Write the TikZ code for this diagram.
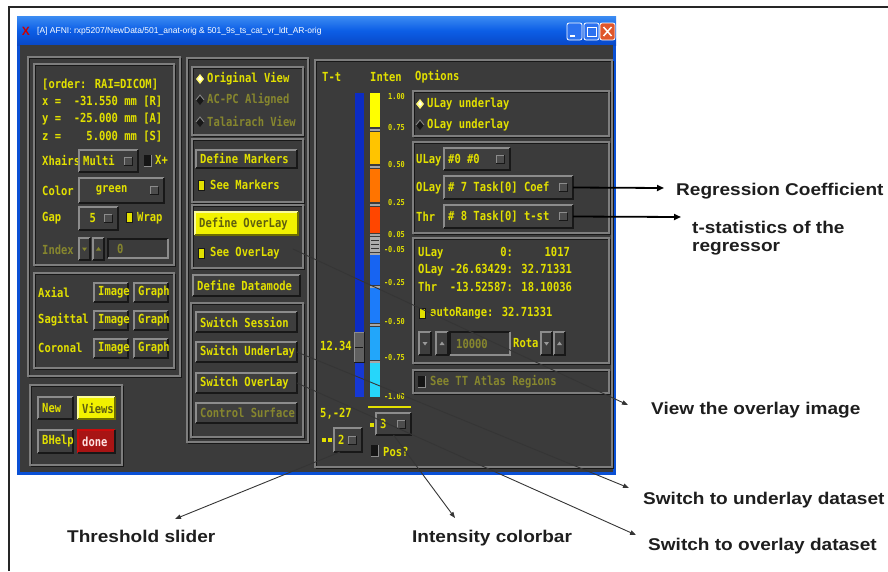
\documentclass[tikz,border=0pt]{standalone}
\usepackage{fontspec}
\setmainfont{Liberation Sans}
\newfontfamily\guifont[FakeStretch=0.84]{DejaVu Sans Mono}
\newfontfamily\annfont[FakeStretch=1.12]{Liberation Sans Bold}
\usetikzlibrary{arrows.meta}
\definecolor{gbg}{HTML}{3B3B3B}
\definecolor{gbtn}{HTML}{3E3E3E}
\definecolor{gyel}{HTML}{E2E000}
\definecolor{gdim}{HTML}{86862E}
\definecolor{ghi}{HTML}{8C8C8C}
\definecolor{glo}{HTML}{181818}
\definecolor{gfr}{HTML}{7E7E7E}
\definecolor{gsqf}{HTML}{4C4C4C}
\definecolor{xpblue}{HTML}{0A50D5}
\definecolor{xptop}{HTML}{3C8CF2}
\definecolor{xpmid}{HTML}{0C5EE6}
\definecolor{xpbot}{HTML}{0848C8}
\definecolor{xpbtn}{HTML}{2C72F0}
\definecolor{xpclose}{HTML}{E0562C}
\definecolor{ybtn}{HTML}{F2F200}
\definecolor{ybtntext}{HTML}{5E5E10}
\definecolor{donered}{HTML}{A81414}
\definecolor{annot}{HTML}{1E1E1E}
\definecolor{thrblue}{HTML}{0C2CC4}
\definecolor{thrblue2}{HTML}{1638D4}
\definecolor{cbA}{HTML}{FFFF00}
\definecolor{cbB}{HTML}{FFC400}
\definecolor{cbC}{HTML}{FF7400}
\definecolor{cbD}{HTML}{FF4600}
\definecolor{cbE}{HTML}{1764F2}
\definecolor{cbF}{HTML}{1C7CFA}
\definecolor{cbG}{HTML}{22A6FA}
\definecolor{cbH}{HTML}{26D6FA}
% raised bevel
\newcommand\GBev[4]{\fill[gbtn] (#1,#2) rectangle (#3,#4);
  \draw[ghi,line width=1.3] (#1,#4) -- (#1,#2) -- (#3,#2);
  \draw[glo,line width=1.3] (#3,#2) -- (#3,#4) -- (#1,#4);}
% sunken bevel
\newcommand\GSunk[4]{\fill[gbg] (#1,#2) rectangle (#3,#4);
  \draw[glo,line width=1.3] (#1,#4) -- (#1,#2) -- (#3,#2);
  \draw[ghi,line width=1.3] (#3,#2) -- (#3,#4) -- (#1,#4);}
% etched frame
\newcommand\GEtch[4]{\draw[glo,line width=1] (#1+1.5,#2+1.5) rectangle (#3+1.5,#4+1.5);
  \draw[gfr,line width=1.3] (#1,#2) rectangle (#3,#4);}
% invisible named node covering a box
\newcommand\GBox[5]{\node[inner sep=0pt,outer sep=0pt,minimum width={#4-#2},minimum height={#5-#3},anchor=north west] (#1) at (#2,#3) {};}
\newcommand\GButton[6]{\GBev{#2}{#3}{#4}{#5}\GBox{#1}{#2}{#3}{#4}{#5}
  \node[gtext] (#1t) at ({#2+4},{(#3+#5)/2}) {#6};}
\newcommand\GSq[2]{\fill[gsqf] (#1,#2) rectangle ++(8,8);
  \draw[ghi,line width=0.8] (#1,#2) ++(0,8) -- ++(0,-8) -- ++(8,0);
  \draw[glo,line width=1] (#1,#2) ++(8,0) -- ++(0,8) -- ++(-8,0);}
\newcommand\GMenu[6]{\GButton{#1}{#2}{#3}{#4}{#5}{#6}
  \pgfmathsetmacro\GMx{#4-14}\pgfmathsetmacro\GMy{(#3+#5)/2-4}\GSq{\GMx}{\GMy}}
\newcommand\GYBtn[6]{\fill[ybtn] (#2,#3) rectangle (#4,#5);
  \draw[white!60!ybtn,line width=1.3] (#2,#5) -- (#2,#3) -- (#4,#3);
  \draw[black!55!ybtn,line width=1.3] (#4,#3) -- (#4,#5) -- (#2,#5);
  \GBox{#1}{#2}{#3}{#4}{#5}
  \node[gtext,text=ybtntext] (#1t) at ({#2+4},{(#3+#5)/2}) {#6};}
\newcommand\GChkOn[2]{\fill[gyel] (#1,#2) rectangle ++(6,10);
  \draw[glo,line width=0.6] (#1,#2) rectangle ++(6,10);}
\newcommand\GChkOff[2]{\fill[black!65!gbg] (#1,#2) rectangle ++(7,11);
  \draw[ghi,line width=0.9] (#1+7,#2) -- ++(0,11) -- ++(-7,0);}
\newcommand\GDiaOn[2]{\fill[yellow!55!white] (#1-4,#2) -- (#1,#2-5) -- (#1+4,#2) -- (#1,#2+5) -- cycle;
  \fill[white] (#1-2,#2) -- (#1,#2-3) -- (#1+2,#2) -- (#1,#2+2) -- cycle;}
\newcommand\GDiaOff[2]{\fill[glo] (#1-4,#2) -- (#1,#2-5) -- (#1+4,#2) -- (#1,#2+5) -- cycle;
  \draw[ghi,line width=0.8] (#1-4,#2) -- (#1,#2-5) -- (#1+4,#2);}
\newcommand\GDn[3]{\fill[#3] (#1-2.5,#2-1.5) -- (#1+2.5,#2-1.5) -- (#1,#2+2) -- cycle;}
\newcommand\GUp[3]{\fill[#3] (#1-2.5,#2+1.5) -- (#1+2.5,#2+1.5) -- (#1,#2-2) -- cycle;}
\begin{document}
\begin{tikzpicture}[x=1pt,y=-1pt,
  gtext/.style={font=\guifont\bfseries\fontsize{12.5}{13}\selectfont,text=gyel,inner sep=0pt,anchor=west},
  gdimt/.style={gtext,text=gdim},
  gsmall/.style={font=\guifont\bfseries\fontsize{8.2}{9}\selectfont,text=gyel,inner sep=0pt,anchor=east},
  ann/.style={font=\annfont\fontsize{17}{20}\selectfont,text=annot,inner sep=0pt,anchor=base west},
  ptr/.style={draw=annot!90,line width=0.9pt,-{Triangle[length=6pt,width=4.5pt]}},
  ptrk/.style={draw=black,line width=1.8pt,-{Triangle[length=7pt,width=6pt]}}]
\useasboundingbox (0,0) rectangle (888,571);
\fill[white] (0,0) rectangle (888,571);
\draw[black!85,line width=1.3] (9,571) -- (9,7) -- (888,7);
% ---------- window ----------
\fill[xpblue] (17,16) rectangle (616,475);
\shade[top color=xptop,bottom color=xpbot,middle color=xpmid] (17,16) rectangle (616,45);
\fill[gbg] (20,45) rectangle (613,472);
\node[text=red!80!black,font=\bfseries\fontsize{12}{12}\selectfont,inner sep=0pt] (icon) at (26,31) {X};
\node[font=\fontsize{8.5}{9}\selectfont,text=white,anchor=west,inner sep=0pt] (title) at (37,31)
  {[A] AFNI: rxp5207/NewData/501\_anat-orig \& 501\_9s\_ts\_cat\_vr\_ldt\_AR-orig};
\filldraw[fill=xpbtn,draw=white,rounded corners=2pt,line width=0.8] (567,23) rectangle (582,40);
\fill[white] (570,35) rectangle (575,37);
\filldraw[fill=xpbtn,draw=white,rounded corners=2pt,line width=0.8] (584,23) rectangle (599,40);
\draw[white,line width=0.9] (587,27) rectangle (596,36);
\draw[white,line width=1.5] (587,27.5) -- (596,27.5);
\filldraw[fill=xpclose,draw=white,rounded corners=2pt,line width=0.8] (600,23) rectangle (615,40);
\draw[white,line width=1.5] (603.5,27) -- (611.5,36) (611.5,27) -- (603.5,36);
% ---------- frames ----------
\GEtch{28}{57}{180}{376}
\GEtch{34}{64}{174}{265}
\GEtch{34}{273}{174}{368}
\GEtch{30}{385}{122}{465}
\GEtch{187}{58}{308}{442}
\GEtch{192}{67}{303}{135}
\GEtch{192}{139}{303}{202}
\GEtch{192}{205}{303}{268}
\GEtch{191}{303}{303}{437}
\GEtch{315}{60}{612}{467}
\GEtch{413}{91}{609}{136}
\GEtch{413}{142}{609}{233}
\GEtch{413}{238}{609}{363}
\GEtch{413}{370}{609}{393}
% ---------- left column ----------
\node[gtext] (ord) at (42,85) {[order: RAI=DICOM]};
\node[gtext] (cx) at (42,102) {x =~~-31.550 mm [R]};
\node[gtext] (cy) at (42,119) {y =~~-25.000 mm [A]};
\node[gtext] (cz) at (42,137) {z =~~~~5.000 mm [S]};
\node[gtext] (xh) at (42,161) {Xhairs};
\GMenu{multi}{79}{150}{138}{172}{Multi}
\GChkOff{144}{155}
\node[gtext] (xplus) at (155,160) {X+};
\node[gtext] (colorl) at (42,191) {Color};
\GMenu{greenb}{79}{178}{164}{203}{~~green}
\node[gtext] (gapl) at (42,218) {Gap};
\GMenu{gapb}{79}{207}{118}{230}{~5}
\GChkOn{126}{212}
\node[gtext] (wrap) at (137,218) {Wrap};
\node[gdimt] (idx) at (42,250) {Index};
\GBev{79}{238}{90}{260}\GDn{84.5}{249}{gdim}
\GBev{93}{238}{104}{260}\GUp{98.5}{249}{gdim}
\GSunk{108}{239}{168}{258}
\node[gdimt] (idxv) at (117,249) {0};
\node[gtext] (axl) at (38,292) {Axial};
\GButton{axi}{94}{283}{128}{302}{Image}
\GButton{axg}{134}{283}{168}{302}{Graph}
\node[gtext] (sal) at (38,320) {Sagittal};
\GButton{sai}{94}{311}{128}{330}{Image}
\GButton{sag}{134}{311}{168}{330}{Graph}
\node[gtext] (col) at (38,348) {Coronal};
\GButton{coi}{94}{339}{128}{358}{Image}
\GButton{cog}{134}{339}{168}{358}{Graph}
\GButton{newb}{38}{397}{73}{419}{New}
\GYBtn{views}{78}{397}{115}{419}{Views}
\GButton{bhelp}{38}{430}{73}{453}{BHelp}
\fill[donered] (78,430) rectangle (115,453);
\draw[red!40!donered,line width=1.3] (78,453) -- (78,430) -- (115,430);
\draw[glo,line width=1.3] (115,430) -- (115,453) -- (78,453);
\GBox{done}{78}{430}{115}{453}
\node[gtext,text=red!12!white] (donet) at (82,441.5) {done};
% ---------- middle column ----------
\GDiaOn{200}{79}
\node[gtext] (ov) at (207,79) {Original View};
\GDiaOff{200}{100}
\node[gdimt] (acpc) at (207,100) {AC-PC Aligned};
\GDiaOff{200}{122}
\node[gdimt] (tal) at (207,122) {Talairach View};
\GButton{defm}{196}{150}{297}{168}{Define Markers}
\GChkOn{198}{180}
\node[gtext] (seem) at (210,185) {See Markers};
\GYBtn{defo}{195}{212}{298}{235}{Define OverLay}
\GChkOn{198}{248}
\node[gtext] (seeov) at (210,253) {See OverLay};
\GButton{defd}{193}{275}{300}{296}{Define Datamode}
\GButton{sws}{196}{312}{297}{332}{Switch Session}
\GButton{swul}{196}{342}{297}{362}{Switch UnderLay}
\GButton{swol}{196}{373}{297}{393}{Switch OverLay}
\GButton{ctrl}{196}{403}{297}{423}{{\color{gdim}Control Surface}}
% ---------- colour bar section ----------
\node[gtext] (tt) at (322,77) {T-t};
\node[gtext] (inten) at (370,77) {Inten};
\node[gtext] (opts) at (415,77) {Options};
\fill[thrblue] (355,93) rectangle (364,397);
\fill[thrblue2] (355,362) rectangle (364,397);
\fill[gray!75!black] (354,332) rectangle (364,362);
\draw[ghi,line width=1] (354,362) -- (354,332) -- (364,332);
\draw[glo,line width=1] (364,332) -- (364,362) -- (354,362);
\draw[glo,line width=0.8] (355,347) -- (363,347);
\fill[cbA] (370,93) rectangle (380,127);
\fill[cbB] (370,132) rectangle (380,164);
\fill[cbC] (370,169) rectangle (380,202);
\fill[cbD] (370,207) rectangle (380,233);
\fill[gray!65] (370,237) rectangle (380,252);
\draw[gray!40!black,line width=0.6] (371,240) -- (379,240) (371,244) -- (379,244) (371,248) -- (379,248);
\fill[cbE] (370,255) rectangle (380,285);
\fill[cbF] (370,288) rectangle (380,323);
\fill[cbG] (370,327) rectangle (380,360);
\fill[cbH] (370,363) rectangle (380,397);
\foreach \yy in {129.5,166.5,204.5,235,253.5,286.5,325,361.5}
  {\fill[gray!70] (370,\yy-1) rectangle (380,\yy+1);}
\node[gsmall] (l1) at (405,97) {1.00};
\node[gsmall] (l2) at (405,128) {0.75};
\node[gsmall] (l3) at (405,165) {0.50};
\node[gsmall] (l4) at (405,203) {0.25};
\node[gsmall] (l5) at (405,235) {0.05};
\node[gsmall] (l6) at (405,250) {-0.05};
\node[gsmall] (l7) at (405,283) {-0.25};
\node[gsmall] (l8) at (405,322) {-0.50};
\node[gsmall] (l9) at (405,358) {-0.75};
\node[gsmall] (l10) at (405,397) {-1.00};
\node[gtext] (thrval) at (320,346) {12.34};
\draw[gyel,line width=1.2] (368,407) -- (411,407);
\node[gtext] (pv) at (320,414) {5,-27};
\fill[gyel] (370,423) rectangle ++(3.5,4);
\fill[gyel] (322,438) rectangle ++(3.5,4);
\fill[gyel] (328,438) rectangle ++(3.5,4);
\GMenu{m3}{376}{413}{411}{435}{3}
\GMenu{m2}{334}{428}{362}{452}{2}
\GChkOff{371}{445}
\node[gtext] (pos) at (383,452) {Pos?};
% ---------- options ----------
\GDiaOn{420}{104}
\node[gtext] (ulu) at (427,104) {ULay underlay};
\GDiaOff{420}{125}
\node[gtext] (olu) at (427,125) {OLay underlay};
\node[gtext] (ulayl) at (416,160) {ULay};
\GMenu{ulb}{444}{148}{510}{170}{\#0 \#0}
\node[gtext] (olayl) at (416,188) {OLay};
\GMenu{olb}{444}{176}{573}{199}{\# 7 Task[0] Coef}
\node[gtext] (thrl) at (416,217) {Thr};
\GMenu{thb}{444}{205}{573}{228}{\# 8 Task[0] t-st}
\node[gtext] (s1) at (418,253) {ULay~~~~~~~~~0:~~~~~1017};
\node[gtext] (s2) at (418,270) {OLay -26.63429: 32.71331};
\node[gtext] (s3) at (418,287) {Thr~~-13.52587: 18.10036};
\GChkOn{419}{308}
\node[gtext] (autor) at (430,313) {autoRange: 32.71331};
\GBev{419}{332}{431}{355}\GDn{425}{343.5}{gray!80}
\GBev{436}{332}{448}{355}\GUp{442}{343.5}{gray!80}
\GSunk{450}{332}{510}{355}
\node[gdimt] (tenk) at (456,343.5) {10000};
\node[gtext] (rota) at (513,343.5) {Rota};
\GBev{541}{332}{552}{355}\GDn{546.5}{343.5}{gray!80}
\GBev{554}{332}{565}{355}\GUp{559.5}{343.5}{gray!80}
\GChkOff{418}{376}
\node[gdimt] (ttatlas) at (430,382) {See TT Atlas Regions};
% ---------- annotations ----------
\node[ann] (reg) at (676,195) {Regression Coefficient};
\node[ann] (tstat) at (692,233) {t-statistics of the};
\node[ann] (tstat2) at (692,251) {regressor};
\node[ann] (view) at (651,414) {View the overlay image};
\node[ann] (swu) at (643,504) {Switch to underlay dataset};
\node[ann] (swo) at (648,550) {Switch to overlay dataset};
\node[ann] (thrs) at (67,542) {Threshold slider};
\node[ann] (intc) at (412,542) {Intensity colorbar};
\coordinate (tipReg) at (664,188);
\coordinate (tipT) at (681,217);
\coordinate (tipView) at (628,405);
\coordinate (tipUL) at (629,488);
\coordinate (tipOL) at (636,535);
\coordinate (tipThr) at (175,519);
\coordinate (tipInt) at (455,518);
\draw[ptrk] (olb.east) -- (tipReg);
\draw[ptrk] (thb.east) -- (tipT);
\draw[ptr] ([xshift=13pt,yshift=4pt]seeov.east) -- (tipView);
\draw[ptr] (swul.east) -- (tipUL);
\draw[ptr] (swol.east) -- (tipOL);
\draw[ptr] ([xshift=6pt]m2.south west) -- (tipThr);
\draw[ptr] (m3.south) -- (tipInt);
\end{tikzpicture}
\end{document}
